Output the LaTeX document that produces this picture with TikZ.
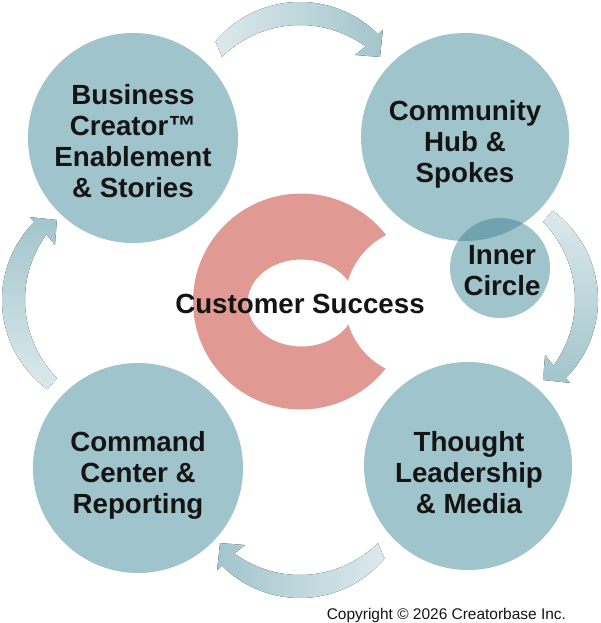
\documentclass[tikz,border=0pt]{standalone}
\usepackage{fontspec}
\setmainfont{Liberation Sans}
\usetikzlibrary{calc}

\definecolor{tealfill}{HTML}{A0C4CB}
\definecolor{tealdeep}{HTML}{70A3AD}
\definecolor{salmon}{HTML}{E09A93}
\definecolor{arrowlight}{HTML}{DCE9EC}
\definecolor{arrowdark}{HTML}{A2C5CC}
\definecolor{ink}{HTML}{141414}

\newcommand{\stagefont}{\fontsize{19.7pt}{22pt}\selectfont\bfseries}
% #1 turn about the middle, #2 outer tail angle, #3 shading
\newcommand{\cyclearrow}[3]{%
  \fill[#3] ($(mid)+(-90+#1:187.7)+(#2+#1:110.3)$)
    arc[start angle=#2+#1, end angle=-45+#1, radius=110.3]
    -- ($(mid)+(-90+#1:187.7)+(-44.9+#1:117)$)
    -- ($(mid)+(-90+#1:187.7)+(-34.7+#1:97.3)$)
    -- ($(mid)+(-90+#1:164)+(-55.8+#1:98)$)
    -- ($(mid)+(-90+#1:164)+(-53.8+#1:111)$)
    arc[start angle=-53.8+#1, end angle=-134.6+#1, radius=111] -- cycle;}

\begin{document}
\begin{tikzpicture}[x=0.025cm, y=-0.025cm,
    stage/.style={circle, fill=tealfill, minimum size=5.25cm, inner sep=0pt},
    corestage/.style={stage, minimum size=2.5cm},
    stagetext/.style={align=center, text=ink, font=\stagefont, inner sep=0pt}]
  \useasboundingbox (0,0) rectangle (600,623);
  \coordinate (mid) at (300,300);

  % arrows round the cycle
  \cyclearrow{0}{-140}{left color=arrowlight, right color=arrowdark}
  \cyclearrow{90}{-144}{top color=arrowlight, bottom color=arrowdark}
  \cyclearrow{180}{-140}{left color=arrowdark, right color=arrowlight}
  \cyclearrow{270}{-144}{top color=arrowdark, bottom color=arrowlight}

  % the C in the middle
  \begin{scope}[even odd rule]
    \clip (0,0) rectangle (600,623) (420,302) circle[radius=75];
    \fill[salmon] (301,301.5) circle[radius=108]
      (301.5,303) ellipse[x radius=54, y radius=43.5];
  \end{scope}
  \node[stagetext, anchor=base] (cs) at (300,313) {Customer Success};

  % stages
  \node[stage] (biz) at (133,138) {};
  \node[stage, minimum size=5.2cm] (hub) at (465,137) {};
  \node[stage] (command) at (138,468) {};
  \node[stage, minimum size=5.2cm] (thought) at (468,466) {};
  \node[corestage] (inner) at (500,268) {};
  \begin{scope}
    \clip (hub.center) circle[radius=104];
    \fill[tealdeep] (inner.center) circle[radius=50];
  \end{scope}

  \node[stagetext] (biztext) at ($(biz.center)+(0,3)$) {Business\\Creator™\\Enablement\\\& Stories};
  \node[stagetext] (hubtext) at ($(hub.center)+(0,7)$) {Community\\Hub \&\\Spokes};
  \node[stagetext] (commandtext) at ($(command.center)+(0,7)$) {Command\\Center \&\\Reporting};
  \node[stagetext] (thoughttext) at ($(thought.center)+(1,7)$) {Thought\\Leadership\\\& Media};
  \node[stagetext] (innertext) at ($(inner.center)+(2,3)$) {Inner\\Circle};

  \node[anchor=base east, text=ink, font=\fontsize{11pt}{13pt}\selectfont] (copy)
    at (571,619) {Copyright © 2026 Creatorbase Inc.};
\end{tikzpicture}
\end{document}
